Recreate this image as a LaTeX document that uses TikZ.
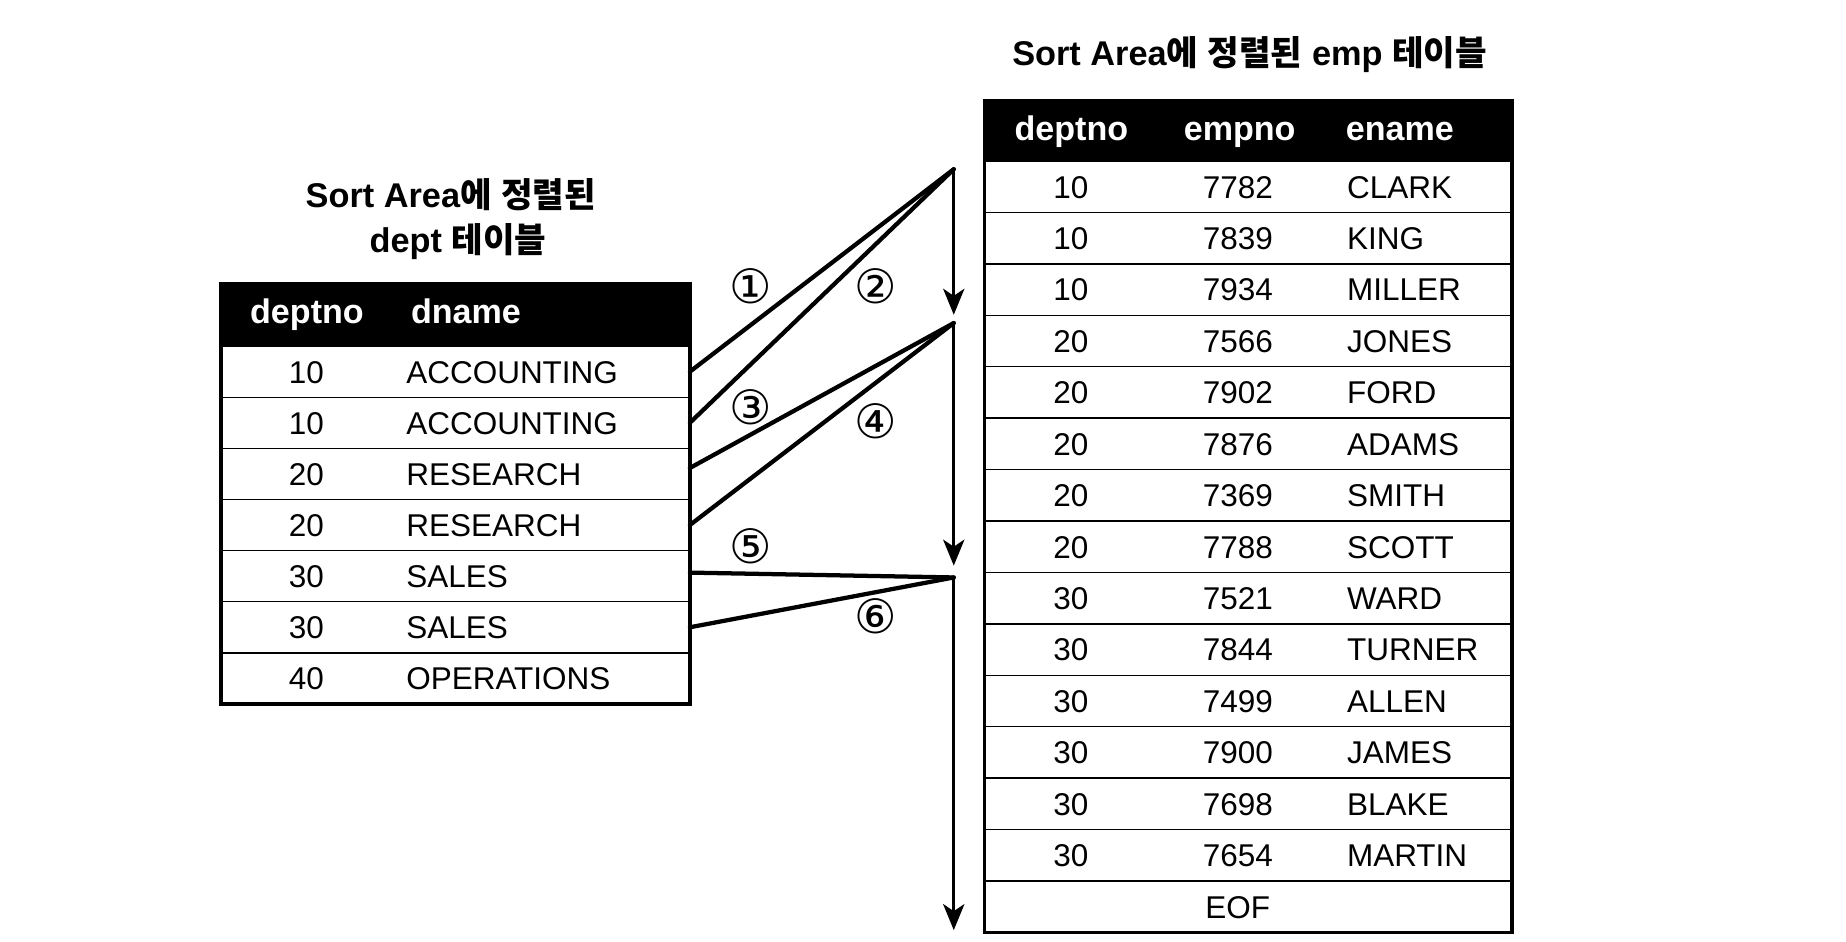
\documentclass[tikz,border=0pt]{standalone}
\usepackage{fontspec}
\setmainfont{Liberation Sans}
\newfontfamily\kr{Noto Sans CJK KR}
\newfontfamily\sym{DejaVu Sans}
\usetikzlibrary{arrows.meta}
\begin{document}
\begin{tikzpicture}[x=0.5pt,y=-0.5pt,
  drow/.style={draw,line width=0.6pt,minimum width=198pt,minimum height=21.6pt,inner sep=0pt,outer sep=0pt},
  erow/.style={draw,line width=0.6pt,minimum width=223pt,minimum height=21.73pt,inner sep=0pt,outer sep=0pt},
  dhead/.style={fill=black,minimum width=198pt,minimum height=26.25pt,inner sep=0pt,outer sep=0pt},
  ehead/.style={fill=black,minimum width=223pt,minimum height=25.5pt,inner sep=0pt,outer sep=0pt},
  cell/.style={inner sep=0pt,font=\fontsize{13.3}{16}\selectfont,text height=9.6pt,text depth=0pt},
  celln/.style={cell,anchor=center},
  cellt/.style={cell,anchor=west},
  htext/.style={inner sep=0pt,anchor=west,text=white,font=\bfseries\fontsize{14.4}{17}\selectfont,text height=10.4pt,text depth=3pt},
  ttl/.style={inner sep=0pt,font=\bfseries\fontsize{14.5}{17}\selectfont,text height=10.5pt,text depth=2.5pt},
  circ/.style={inner sep=0pt,font=\sym\fontsize{20}{24}\selectfont},
  conn/.style={line width=1.8pt,line join=round,line cap=round},
  vline/.style={line width=1.1pt,-{Stealth[length=11pt,width=9pt,inset=3pt]}},
  border/.style={line width=1.6pt}
]
\useasboundingbox (0,0) rectangle (1560,796);

% titles
\node[ttl] (tl1) at (381,167) {Sort Area{\kr 에} {\kr 정렬된}};
\node[ttl] (tl2) at (387,205) {dept {\kr 테이블}};
\node[ttl] (tr) at (1056,47) {Sort Area{\kr 에} {\kr 정렬된} emp {\kr 테이블}};

% dept table
\node[dhead] (dh) at (385,266.25) {};
\node[htext] (dhx1) at (211,266) {deptno};
\node[htext] (dhx2) at (347,266) {dname};
\foreach \i/\n/\t in {1/10/ACCOUNTING,2/10/ACCOUNTING,3/20/RESEARCH,4/20/RESEARCH,5/30/SALES,6/30/SALES,7/40/OPERATIONS}{
  \node[drow] (d\i) at (385,{292.5+43.2*(\i-0.5)}) {};
  \node[celln] (d\i n) at (259,{292.5+43.2*(\i-0.5)}) {\n};
  \node[cellt] (d\i t) at (343,{292.5+43.2*(\i-0.5)}) {\t};
}
\draw[border] (dh.north west) rectangle (d7.south east);

% emp table
\node[ehead] (eh) at (1055,110.5) {};
\node[htext] (ehx1) at (857,111) {deptno};
\node[htext] (ehx2) at (1000,111) {empno};
\node[htext] (ehx3) at (1137,111) {ename};
\foreach \i/\d/\n/\t in {1/10/7782/CLARK,2/10/7839/KING,3/10/7934/MILLER,4/20/7566/JONES,5/20/7902/FORD,6/20/7876/ADAMS,7/20/7369/SMITH,8/20/7788/SCOTT,9/30/7521/WARD,10/30/7844/TURNER,11/30/7499/ALLEN,12/30/7900/JAMES,13/30/7698/BLAKE,14/30/7654/MARTIN}{
  \node[erow] (e\i) at (1055,{136+43.47*(\i-0.5)}) {};
  \node[celln] (e\i d) at (905,{136+43.47*(\i-0.5)}) {\d};
  \node[celln] (e\i n) at (1046,{136+43.47*(\i-0.5)}) {\n};
  \node[cellt] (e\i t) at (1138,{136+43.47*(\i-0.5)}) {\t};
}
\node[erow] (e15) at (1055,{136+43.47*14.5}) {};
\node[celln] (eof) at (1046,{136+43.47*14.5}) {EOF};
\draw[border] (eh.north west) rectangle (e15.south east);

% scan pointer
\coordinate (a1) at (806,143);
\coordinate (t1) at (806,266);
\coordinate (a2) at (806,273);
\coordinate (t2) at (806,478);
\coordinate (a3) at (806,488);
\coordinate (t3) at (806,786);
\draw[vline] (a1) -- (t1);
\draw[vline] (a2) -- (t2);
\draw[vline] (a3) -- (t3);

\draw[conn] (d1.east) -- (a1);
\draw[conn] (d2.east) -- (a1);
\draw[conn] ([yshift=2.5pt]d3.east) -- (a2);
\draw[conn] (d4.east) -- (a2);
\draw[conn] ([yshift=1.5pt]d5.east) -- (a3);
\draw[conn] (d6.east) -- (a3);

% step labels
\node[circ] (c1) at (634,242) {①};
\node[circ] (c2) at (740,242) {②};
\node[circ] (c3) at (634,344) {③};
\node[circ] (c4) at (740,356) {④};
\node[circ] (c5) at (634,462) {⑤};
\node[circ] (c6) at (740,521) {⑥};
\end{tikzpicture}
\end{document}
